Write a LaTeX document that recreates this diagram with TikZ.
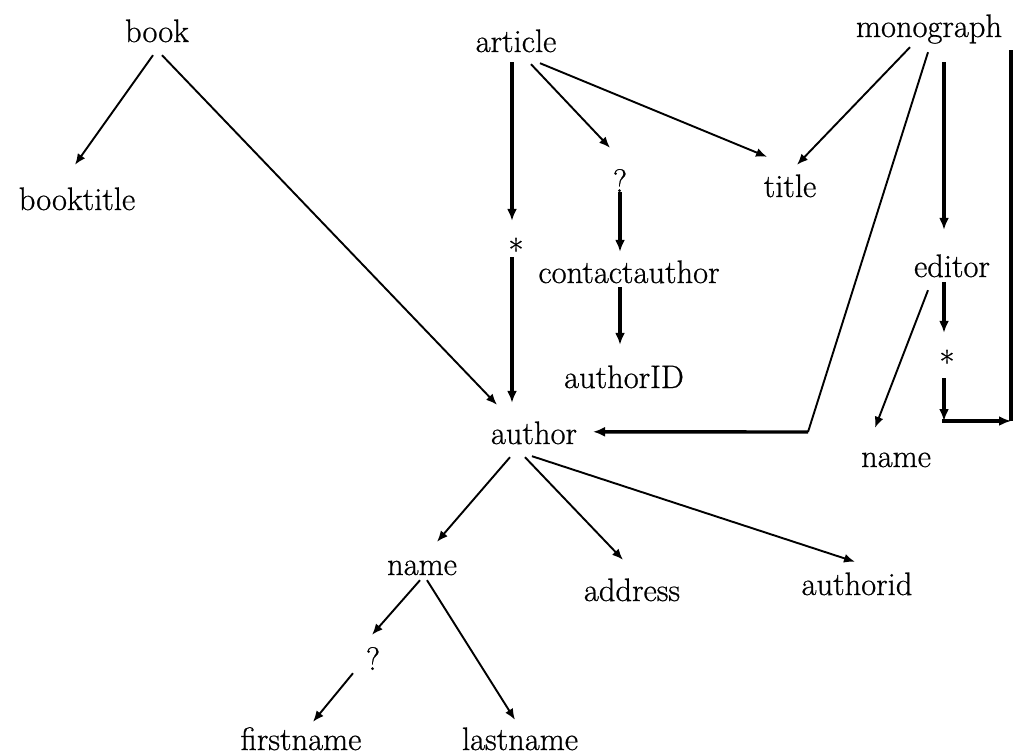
\documentclass[tikz,border=0pt]{standalone}
\usepackage{fontspec}
\newfontfamily\diagfont{Latin Modern Roman}[FakeBold=0.7]
\usetikzlibrary{calc,arrows.meta}
\begin{document}
\begin{tikzpicture}[x=1pt,y=-1pt,
  lbl/.style={inner sep=0pt,anchor=base,text height=24pt,text depth=8pt,font=\diagfont\fontsize{32.5}{38}\selectfont},
  thinarr/.style={line width=1.9pt,-{Latex[length=11pt,width=9pt]}},
  thickarr/.style={line width=3.4pt,-{Latex[length=12pt,width=10pt]}},
  thinln/.style={line width=1.9pt},
  thickln/.style={line width=3.4pt}]
\useasboundingbox (0,0) rectangle (1014,755);
% nodes
\node[lbl] (book) at (157,42) {book};
\node[lbl] (booktitle) at (77,210) {booktitle};
\node[lbl] (article) at (516,52) {article};
\node[lbl] (monograph) at (929,37) {monograph};
\node[lbl] (title) at (790,197) {title};
\node[lbl] (q1) at (620,192) {?};
\node[lbl] (star1) at (516,262) {*};
\node[lbl] (contact) at (629,283) {contactauthor};
\node[lbl] (authorID) at (624,388) {authorID};
\node[lbl] (author) at (534,444) {author};
\node[lbl] (editor) at (952,277) {editor};
\node[lbl] (star2) at (947,374) {*};
\node[lbl] (name2) at (896,467) {name};
\node[lbl] (name1) at (422,575) {name};
\node[lbl] (address) at (632,601) {address};
\node[lbl] (authorid) at (857,595) {authorid};
\node[lbl] (q2) at (373,670) {?};
\node[lbl] (firstname) at (301,750) {firstname};
\node[lbl] (lastname) at (520,750) {lastname};
% helper coordinates
\coordinate (m1) at (808,432);
\coordinate (c1) at (944,421);
\coordinate (c2) at (1011,421);
\coordinate (c3) at (1011,50);
% connectors
\draw[thinarr] ($(book.south)+(-4,5)$) -- ($(booktitle.north)+(-2,-21)$);
\draw[thinarr] ($(book.south)+(5,5)$) -- ($(author.north)+(-37,-15)$);
\draw[thickarr] ($(article.south)+(-4,2)$) -- ($(star1.north)+(-4,-17)$);
\draw[thickarr] ($(star1.south)+(-4,-13)$) -- ($(author.north)+(-22,-17)$);
\draw[thinarr] ($(article.south)+(15,4)$) -- ($(q1.north)+(-10,-20)$);
\draw[thinarr] ($(article.south)+(24,3)$) -- ($(title.north)+(-23,-16)$);
\draw[thickarr] ($(q1.south)+(0,-8)$) -- ($(contact.north)+(-9,-7)$);
\draw[thickarr] ($(contact.south)+(-9,-4)$) -- ($(authorID.north)+(-4,-19)$);
\draw[thinarr] ($(monograph.south)+(-19,2)$) -- ($(title.north)+(7,-8)$);
\draw[thinln] ($(monograph.south)+(-1,7)$) -- (m1);
\draw[thickarr] (m1) -- ($(author.north)+(59,12)$);
\draw[thickarr] ($(monograph.south)+(15,17)$) -- ($(editor.north)+(-8,-23)$);
\draw[thickarr] ($(editor.south)+(-8,-3)$) -- ($(star2.north)+(-3,-17)$);
\draw[thinarr] ($(editor.south)+(-24,5)$) -- ($(name2.north)+(-21,-15)$);
\draw[thickarr] ($(star2.south)+(-3,-4)$) -- (c1);
\draw[thickarr] ($(c1)+(-1.7,0)$) -- (c2);
\draw[thickln] (c2) -- (c3);
\draw[thinarr] ($(author.south)+(-24,5)$) -- ($(name1.north)+(15,-9)$);
\draw[thinarr] ($(author.south)+(-9,5)$) -- ($(address.north)+(-9,-17)$);
\draw[thinarr] ($(author.south)+(-2,4)$) -- ($(authorid.north)+(-2,-9)$);
\draw[thinarr] ($(name1.south)+(-2,-3)$) -- ($(q2.north)+(-1,-11)$);
\draw[thinarr] ($(name1.south)+(5,-3)$) -- ($(lastname.north)+(-5,-6)$);
\draw[thinarr] ($(q2.south)+(-20,-5)$) -- ($(firstname.north)+(12,-4)$);
\end{tikzpicture}
\end{document}
